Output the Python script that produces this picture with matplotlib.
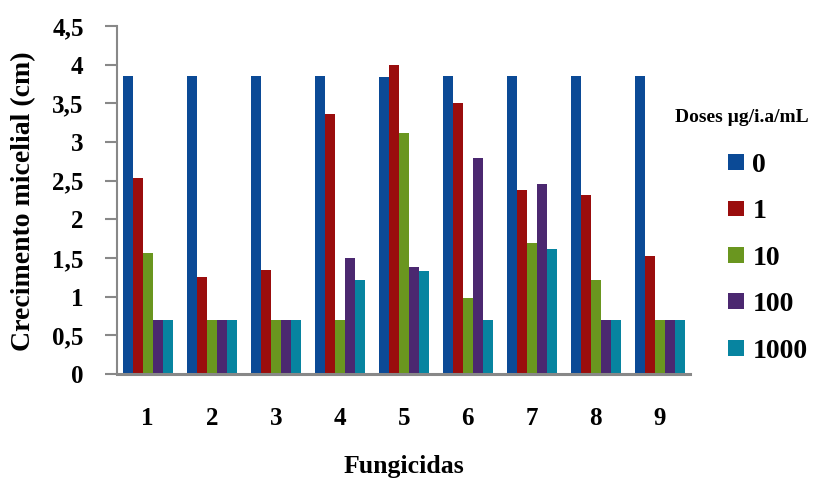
import matplotlib
matplotlib.use("Agg")
import matplotlib.pyplot as plt
import numpy as np

categories = ["1", "2", "3", "4", "5", "6", "7", "8", "9"]
series_names = ["0", "1", "10", "100", "1000"]
dose_0 = [3.85, 3.85, 3.85, 3.85, 3.84, 3.85, 3.85, 3.85, 3.85]
dose_1 = [2.53, 1.26, 1.35, 3.36, 3.99, 3.51, 2.38, 2.31, 1.52]
dose_10 = [1.57, 0.70, 0.70, 0.70, 3.11, 0.98, 1.70, 1.21, 0.70]
dose_100 = [0.70, 0.70, 0.70, 1.50, 1.39, 2.79, 2.46, 0.70, 0.70]
dose_1000 = [0.70, 0.70, 0.70, 1.22, 1.33, 0.70, 1.62, 0.70, 0.70]
yticks = [0, 0.5, 1, 1.5, 2, 2.5, 3, 3.5, 4, 4.5]
ytick_labels = ["0", "0,5", "1", "1,5", "2", "2,5", "3", "3,5", "4", "4,5"]

colors = ["#0B4A96", "#9A0D0D", "#6A961F", "#4B2870", "#0784A0"]
series = [dose_0, dose_1, dose_10, dose_100, dose_1000]

plt.rcParams['font.family'] = ['Liberation Serif', 'DejaVu Serif']

W, H = 822, 479
fig = plt.figure(figsize=(W / 100, H / 100), dpi=100)
ax = fig.add_axes([117/W, 105/H, 573/W, 348/H])

x = np.arange(len(categories))
bw = 0.156
handles = []
for i, (vals, c) in enumerate(zip(series, colors)):
    h = ax.bar(x + (i - 2) * bw, vals, width=bw, color=c, zorder=2, linewidth=0)
    handles.append(h)

ax.set_xlim(-0.48, 8.47)
ax.set_ylim(0, 4.5)
ax.set_yticks(yticks)
ax.set_yticklabels(ytick_labels, fontsize=18, fontweight='bold')
ax.set_xticks(x)
ax.set_xticklabels(categories, fontsize=18, fontweight='bold')
ax.tick_params(axis='y', direction='out', length=9, width=1.5, color='#888888', pad=15)
ax.tick_params(axis='x', length=0, pad=24)

for s in ['top', 'right']:
    ax.spines[s].set_visible(False)
ax.spines['left'].set_color('#888888')
ax.spines['left'].set_linewidth(1.5)
ax.spines['bottom'].set_color('#888888')
ax.spines['bottom'].set_linewidth(2.2)
ax.spines['bottom'].set_zorder(3)

fig.text(24/W, 1 - 201/H, "Crecimento micelial (cm)", fontsize=20, fontweight='bold',
         rotation=90, ha='center', va='center')
fig.text(404/W, 1 - 467/H, "Fungicidas", fontsize=18.5, fontweight='bold',
         ha='center', va='center')

fig.text(675/W, 1 - 118/H, "Doses \u00b5g/i.a/mL", fontsize=14, fontweight='bold',
         ha='left', va='center')

leg = fig.legend(handles, series_names, loc='upper left', bbox_to_anchor=(703/W, 1 - 128/H),
                 frameon=False, prop={'size': 20, 'weight': 'bold'},
                 handlelength=0.58, handleheight=0.5, labelspacing=0.77, handletextpad=0.3)

fig.savefig("out.png", dpi=100)
